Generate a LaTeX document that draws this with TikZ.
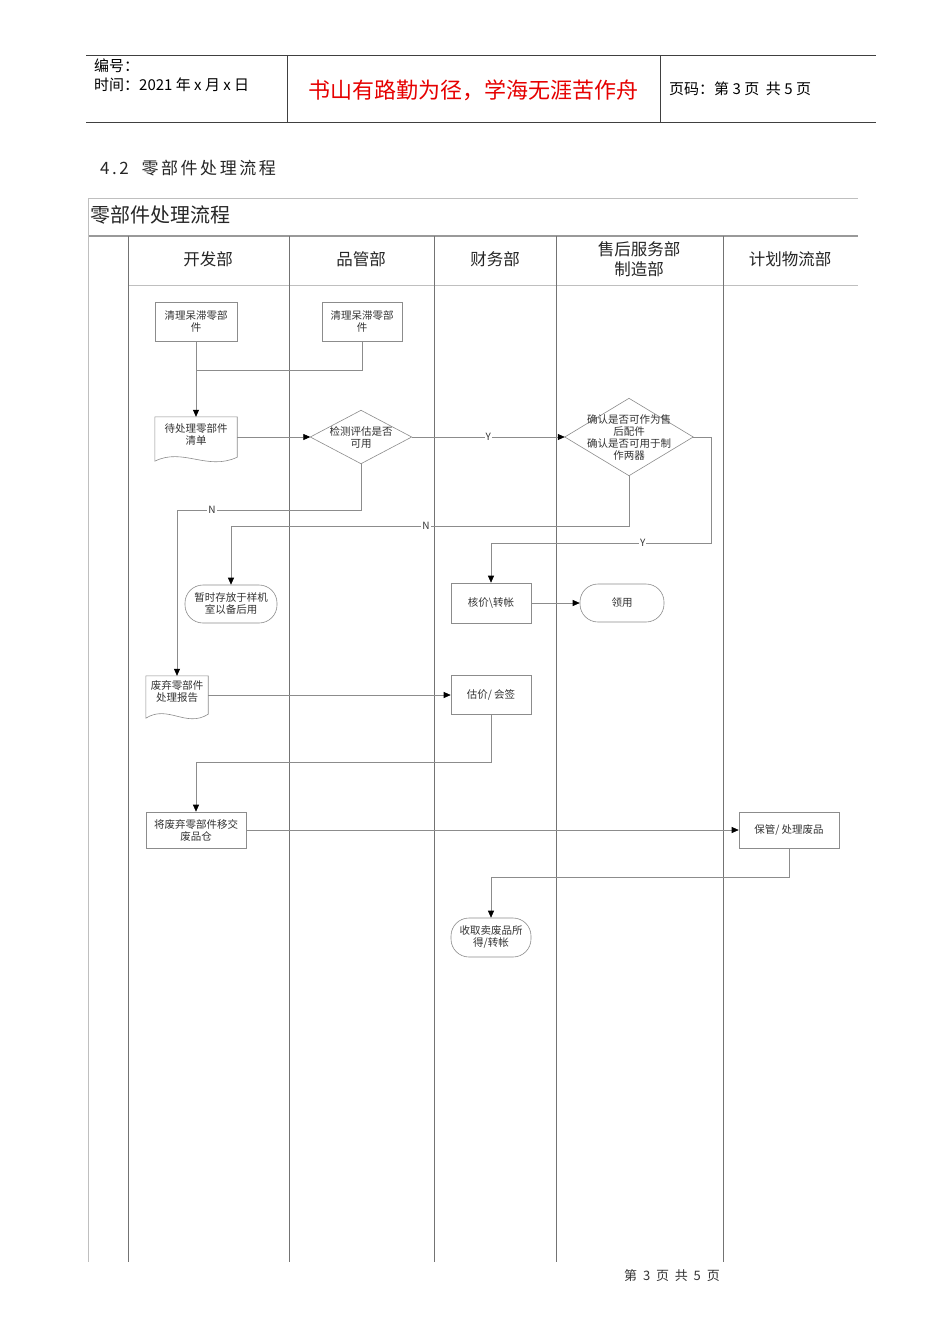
\documentclass[tikz,border=0pt]{standalone}
\usepackage{fontspec}
\setmainfont{Noto Sans CJK SC}
\usetikzlibrary{arrows.meta,calc}
\begin{document}
\begin{tikzpicture}[x=1pt,y=-1pt,
  hdrline/.style={draw=black!75, line width=0.8pt},
  lane/.style={draw=black!55, line width=0.7pt},
  frame/.style={draw=black!25, line width=0.7pt},
  box/.style={draw=black!45, line width=0.6pt, fill=white, align=center, inner sep=0pt, font=\fontsize{10.5}{12}\selectfont, text=black!80},
  plain/.style={draw=none, align=center, inner sep=0pt, font=\fontsize{10.5}{12}\selectfont, text=black!80},
  term/.style={box, rounded corners=18pt},
  conn/.style={draw=black!45, line width=0.6pt},
  arr/.style={conn, -{Triangle[length=7pt,width=6pt,color=black]}},
  lab/.style={fill=white, inner sep=1pt, font=\fontsize{10}{12}\selectfont, text=black!80},
  lanehead/.style={font=\fontsize{16.5}{19}\selectfont, align=center, text=black!85},
]
\useasboundingbox (0,0) rectangle (950,1344);
\fill[white] (0,0) rectangle (950,1344);

% ---------- page header ----------
\draw[hdrline] (86,55) -- (876,55);
\draw[hdrline] (86,122) -- (876,122);
\draw[hdrline] (287,55) -- (287,122);
\draw[hdrline] (660,55) -- (660,122);
\node[anchor=west, font=\fontsize{15}{17}\selectfont, inner sep=0pt] (num) at (94,66) {编号：};
\node[anchor=west, font=\fontsize{15}{17}\selectfont, inner sep=0pt] (time) at (94,85) {时间：2021\ 年\ x\ 月\ x\ 日};
\node[font=\fontsize{22}{25}\selectfont, text={rgb,255:red,230;green,0;blue,0}, inner sep=0pt] (motto) at (473,90) {书山有路勤为径，学海无涯苦作舟};
\node[anchor=west, font=\fontsize{15}{17}\selectfont, inner sep=0pt] (page) at (669,89) {页码：第\ 3\ 页\ \ 共\ 5\ 页};

% ---------- section title ----------
\node[anchor=west, font=\fontsize{17}{19}\selectfont\addfontfeature{LetterSpace=15}, inner sep=0pt, text=black!85] (sec) at (100,168) {4.2\ \ 零部件处理流程};

% ---------- swimlane frame ----------
\draw[frame] (88,198) -- (858,198);
\draw[draw=black!40, line width=1.2pt] (88,236) -- (858,236);
\draw[frame] (88,198) -- (88,1262);
\node[anchor=west, font=\fontsize{20}{23}\selectfont, inner sep=0pt, text=black!85] (title) at (90,215) {零部件处理流程};
\draw[frame] (128,285) -- (858,285);
\foreach \x in {128,289,434,556,723} {\draw[lane] (\x,236) -- (\x,1262);}
\node[lanehead] (l1) at (208,259) {开发部};
\node[lanehead] (l2) at (361,259) {品管部};
\node[lanehead] (l3) at (495,259) {财务部};
\node[lanehead, font=\fontsize{16.5}{20}\selectfont] (l4) at (639,259) {售后服务部\\制造部};
\node[lanehead] (l5) at (790,259) {计划物流部};

% ---------- nodes ----------
\node[box, minimum width=82, minimum height=39] (b1) at (196,321.5) {清理呆滞零部\\件};
\node[box, minimum width=80, minimum height=39] (b2) at (362,321.5) {清理呆滞零部\\件};

% document 1
\node[plain, minimum width=82, minimum height=40] (d1) at (196,437) {};
\draw[conn, fill=white] (d1.south east) -- (d1.north east) -- (d1.north west) -- ($(d1.south west)+(0,4)$)
  .. controls ($(d1.south west)+(28,-10)$) and ($(d1.south east)+(-30,14)$) .. (d1.south east) -- cycle;
\node[plain] at ($(d1)+(0,-3)$) {待处理零部件\\清单};

% diamond 1
\node[plain, minimum width=101, minimum height=53] (q1) at (361,437) {};
\draw[conn, fill=white] (q1.west) -- (q1.north) -- (q1.east) -- (q1.south) -- cycle;
\node[plain] at (q1) {检测评估是否\\可用};

% diamond 2
\node[plain, minimum width=128, minimum height=77] (q2) at (629,437) {};
\draw[conn, fill=white] (q2.west) -- (q2.north) -- (q2.east) -- (q2.south) -- cycle;
\node[plain, font=\fontsize{10.5}{12}\selectfont] at (q2) {确认是否可作为售\\后配件\\确认是否可用于制\\作两器};

\node[term, minimum width=92, minimum height=38] (t1) at (231,604) {暂时存放于样机\\室以备后用};
\node[box, minimum width=80, minimum height=40] (b3) at (491,603) {核价\textbackslash 转帐};
\node[term, minimum width=84, minimum height=38] (t2) at (622,603) {领用};

% document 2
\node[plain, minimum width=62, minimum height=38] (d2) at (177,695) {};
\draw[conn, fill=white] (d2.south east) -- (d2.north east) -- (d2.north west) -- ($(d2.south west)+(0,4)$)
  .. controls ($(d2.south west)+(22,-10)$) and ($(d2.south east)+(-22,14)$) .. (d2.south east) -- cycle;
\node[plain] at ($(d2)+(0,-3)$) {废弃零部件\\处理报告};

\node[box, minimum width=80, minimum height=39] (b4) at (491,695) {估价/ 会签};
\node[box, minimum width=100, minimum height=36] (b5) at (196,830) {将废弃零部件移交\\废品仓};
\node[box, minimum width=100, minimum height=36] (b6) at (789,830) {保管/ 处理废品};
\node[term, minimum width=80, minimum height=39] (t3) at (491,937.5) {收取卖废品所\\得/转帐};

% ---------- connectors ----------
\coordinate (j1) at (196,370);
\draw[arr] (b1.south) -- (d1.north);
\draw[conn] (b2.south) |- (j1);

\draw[arr] (d1.east) -- (q1.west);
\draw[arr] (q1.east) -- node[lab, pos=0.5]{Y} (q2.west);

\coordinate (n1) at (361,510);
\draw[arr] (q1.south) -- (n1) -- node[lab, pos=0.81]{N} (n1 -| d2.north) -- (d2.north);

\coordinate (n2) at (629,526);
\draw[arr] (q2.south) -- (n2) -- node[lab, pos=0.51]{N} (n2 -| t1.north) -- (t1.north);

\coordinate (y2a) at (711,437);
\coordinate (y2b) at (711,543);
\draw[arr] (q2.east) -- (y2a) -- (y2b) -- node[lab, pos=0.31]{Y} (y2b -| b3.north) -- (b3.north);

\draw[arr] (b3.east) -- (t2.west);
\draw[arr] (d2.east) -- (b4.west);

\coordinate (c3) at (491,762);
\draw[arr] (b4.south) -- (c3) -- (c3 -| b5.north) -- (b5.north);
\draw[arr] (b5.east) -- (b6.west);

\coordinate (c4) at (789,877);
\draw[arr] (b6.south) -- (c4) -- (c4 -| t3.north) -- (t3.north);

% ---------- footer ----------
\node[font=\fontsize{13}{15}\selectfont, text=black!80, inner sep=0pt] (foot) at (672,1276) {第\ \ 3\ \ 页\ \ 共\ \ 5\ \ 页};
\end{tikzpicture}
\end{document}
